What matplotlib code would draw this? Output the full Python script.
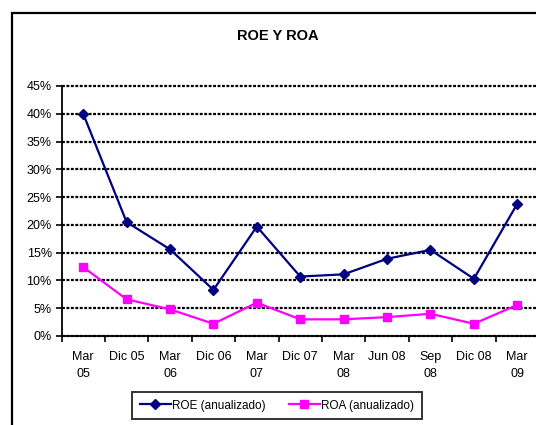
import matplotlib
matplotlib.use("Agg")
import matplotlib.pyplot as plt
from matplotlib.patches import Rectangle
from matplotlib.ticker import FuncFormatter, MultipleLocator

plt.rcParams['font.family'] = ['Liberation Sans', 'DejaVu Sans']

categories = ["Mar\n05", "Dic 05", "Mar\n06", "Dic 06", "Mar\n07", "Dic 07",
              "Mar\n08", "Jun 08", "Sep\n08", "Dic 08", "Mar\n09"]
roe = [0.400, 0.205, 0.156, 0.083, 0.197, 0.107, 0.111, 0.139, 0.155, 0.103, 0.238]
roa = [0.124, 0.066, 0.048, 0.022, 0.060, 0.030, 0.030, 0.034, 0.040, 0.022, 0.056]
title = "ROE Y ROA"
series_names = ["ROE (anualizado)", "ROA (anualizado)"]

W, H = 536, 425
fig = plt.figure(figsize=(W / 100, H / 100), dpi=100)

# outer chart frame (runs off right and bottom edge)
fig.patches.append(Rectangle((11.5 / W, -0.1), 1.2, 1 - 12.5 / H + 0.1,
                             transform=fig.transFigure, fill=False,
                             edgecolor='black', linewidth=1.6))

left, right = 61.5 / W, 539 / W
bottom, top = 1 - 336 / H, 1 - 86 / H
ax = fig.add_axes([left, bottom, right - left, top - bottom])

x = list(range(len(categories)))
ax.plot(x, roe, color='#000080', marker='D', markersize=5.5, linewidth=1.6,
        label=series_names[0], clip_on=False, zorder=3)
ax.plot(x, roa, color='#FF00FF', marker='s', markersize=5.5, linewidth=1.6,
        label=series_names[1], clip_on=False, zorder=3)

ax.set_xlim(-0.5, len(categories) - 0.5)
ax.set_ylim(0, 0.45)
ax.yaxis.set_major_locator(MultipleLocator(0.05))
ax.yaxis.set_major_formatter(FuncFormatter(lambda v, p: f"{v*100:.0f}%"))

ax.set_xticks(x)
ax.set_xticklabels(categories, fontsize=9, linespacing=1.5)
ax.set_xticks([i - 0.5 for i in range(len(categories) + 1)], minor=True)
ax.tick_params(axis='x', which='major', length=0, pad=11)
ax.tick_params(axis='x', which='minor', length=4, width=1.2, direction='out')
ax.tick_params(axis='y', which='major', length=4, width=1.2, direction='out',
               labelsize=9, pad=3)

ax.grid(axis='y', color='black', linestyle=(0, (1.3, 0.7)), linewidth=1.6)
for gl in ax.yaxis.get_gridlines():
    gl.set_clip_on(False)
ax.set_axisbelow(True)
for s in ['top', 'right']:
    ax.spines[s].set_visible(False)
for s in ['left', 'bottom']:
    ax.spines[s].set_linewidth(1.3)
    ax.spines[s].set_zorder(4)

fig.text(278 / W, 1 - 36 / H, title, ha='center', va='center',
         fontsize=10.5, fontweight='bold')

leg = fig.legend(loc='center', bbox_to_anchor=(277 / W, 1 - 405.5 / H),
                 ncol=2, fontsize=8.5, frameon=True, fancybox=False,
                 handlelength=2.6, handletextpad=0.1, columnspacing=2.0,
                 borderpad=0.65, borderaxespad=0)
leg.get_frame().set_edgecolor('black')
leg.get_frame().set_linewidth(1.4)

fig.savefig("out.png", dpi=100)
